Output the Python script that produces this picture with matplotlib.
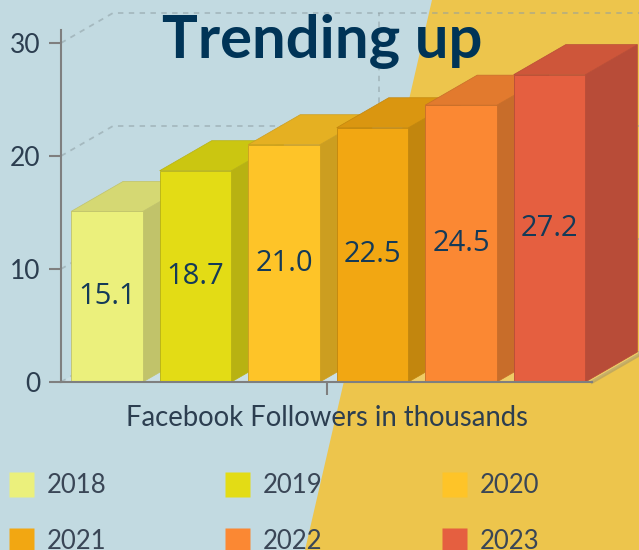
import matplotlib
matplotlib.use("Agg")
import matplotlib.pyplot as plt
from matplotlib.patches import Polygon
from matplotlib.lines import Line2D

# data
years = ["2018", "2019", "2020", "2021", "2022", "2023"]
followers = [15.1, 18.7, 21.0, 22.5, 24.5, 27.2]
front_cols = ["#ebf07c", "#e3dc15", "#fec428", "#f2a712", "#fb8833", "#e55f40"]
top_cols = ["#d5d873", "#cbc611", "#e5b022", "#da9610", "#e27a2e", "#ce563a"]
side_cols = ["#c1c36a", "#b8b212", "#cc9e20", "#c2860e", "#c86d2a", "#b84c38"]
yticks = [0, 10, 20, 30]

W, H = 639, 550
fig = plt.figure(figsize=(W / 100, H / 100), dpi=100)
fig.patch.set_facecolor("#c2dae1")
# yellow diagonal backdrop
fig.add_artist(Polygon([(432 / W, 1), (1, 1), (1, 0), (305 / W, 0)], closed=True,
                       transform=fig.transFigure, facecolor="#edc54c",
                       edgecolor="none", zorder=-5))

ax = fig.add_axes([61 / W, 168 / H, 531 / W, 352 / H])
ax.set_facecolor("none")
x0, x1 = -0.52, 5.48
ax.set_xlim(x0, x1)
ax.set_ylim(0, 31.15)

# depth offset (pixels -> data)
inv = ax.transData.inverted()
o = ax.transData.transform((0, 0))
d = inv.transform(o + [52, 30])
dx, dy = d[0], d[1]

grid_kw = dict(color="#8e9ea3", alpha=0.55, lw=1.3, ls=(0, (3, 3)), clip_on=False, zorder=1)
for v in yticks:
    ax.plot([x0, x0 + dx, x1 + dx], [v, v + dy, v + dy], **grid_kw)
mid = (x0 + x1) / 2
ax.plot([mid + dx, mid + dx], [dy, yticks[-1] + dy], **grid_kw)

# floor
ax.fill([x0, x1, x1 + dx, x0 + dx], [0, 0, dy, dy], color="white", alpha=0.15,
        lw=0, zorder=1.5, clip_on=False)
ax.plot([x1, x1 + dx], [0, dy], color="#7a7a7a", alpha=0.35, lw=2.5,
        clip_on=False, zorder=1.6)

bw = 0.81
for i, v in enumerate(followers):
    z = 3 + i * 0.1
    l, r = i - bw / 2, i + bw / 2
    ax.fill([r, r + dx, r + dx, r], [0, dy, v + dy, v], color=side_cols[i],
            ec=side_cols[i], lw=0.5, zorder=z, clip_on=False)
    ax.fill([l, r, r + dx, l + dx], [v, v, v + dy, v + dy], color=top_cols[i],
            ec=side_cols[i], lw=0.5, zorder=z, clip_on=False)
    ax.bar(i, v, width=bw, color=front_cols[i], edgecolor=side_cols[i],
           linewidth=0.6, zorder=z + 0.01)
    ax.text(i, v / 2, f"{v:.1f}", ha="center", va="center", fontsize=21,
            family="Open Sans", color="#143a58", zorder=10)

for s in ["top", "right"]:
    ax.spines[s].set_visible(False)
for s in ["left", "bottom"]:
    ax.spines[s].set_color("#7f7f7f")
    ax.spines[s].set_linewidth(1.5)
    ax.spines[s].set_zorder(8)

ax.set_yticks(yticks)
ax.tick_params(axis="y", length=8.6, width=1.5, color="#7f7f7f", pad=6,
               labelsize=19, labelcolor="#2c3e50")
for t in ax.get_yticklabels():
    t.set_family("Lato")
ax.set_xticks([mid])
ax.set_xticklabels([""])
ax.tick_params(axis="x", length=9.5, width=1.5, color="#7f7f7f")

ax.text(0.5, -(418 - 382) / 352, "Facebook Followers in thousands", transform=ax.transAxes,
        ha="center", va="center", fontsize=19.8, family="Lato", color="#2c3e50")

fig.text(322 / W, 1 - 58 / H, "Trending up", ha="center", va="baseline", fontsize=43,
         family="Lato", weight="bold", color="#003457")

# legend, row-major order 2018 2019 2020 / 2021 2022 2023
order = [0, 3, 1, 4, 2, 5]
handles = [Line2D([], [], ls="none", marker="s", markersize=18,
                  markerfacecolor=front_cols[k], markeredgecolor="none") for k in order]
labels = [years[k] for k in order]
leg = fig.legend(handles, labels, ncol=3, loc="upper left",
                 bbox_to_anchor=(8 / W, 1 - 473 / H), frameon=False,
                 prop={"family": "Lato", "weight": "normal", "size": 18.5},
                 handlelength=1.0, handletextpad=0.5, columnspacing=4.6,
                 labelspacing=1.2, borderpad=0, borderaxespad=0)
for t in leg.get_texts():
    t.set_color("#3a4656")

fig.savefig("out.png", dpi=100, facecolor=fig.get_facecolor())
